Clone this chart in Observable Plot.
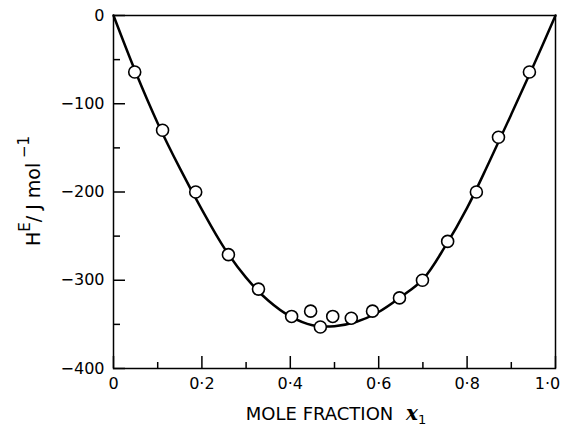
<!DOCTYPE html>
<html><head><meta charset="utf-8">
<script src="https://cdn.jsdelivr.net/npm/d3@7"></script>
<script src="https://cdn.jsdelivr.net/npm/@observablehq/plot@0.6"></script>
<style>body{margin:0;background:#fff}</style>
</head><body><div id="chart"></div>
<script>
// measured points
const pointX = [0.048, 0.111, 0.186, 0.260, 0.328, 0.403, 0.446, 0.468, 0.496, 0.538, 0.586, 0.647, 0.699, 0.756, 0.821, 0.871, 0.941];
const pointY = [-64, -130, -200, -271, -310, -341, -335, -353, -341, -343, -335, -320, -300, -256, -200, -138, -64];
// fitted curve
const curveX = [0, 0.05, 0.10, 0.15, 0.20, 0.25, 0.30, 0.35, 0.40, 0.45, 0.50, 0.55, 0.60, 0.65, 0.70, 0.75, 0.80, 0.85, 0.90, 0.95, 1.0];
const curveY = [0, -64, -122, -173, -220, -263, -297, -323, -341, -351, -352, -347, -336, -319, -299, -262, -218, -166, -112, -57, 0];
const xTicks = [0, 0.2, 0.4, 0.6, 0.8, 1.0];
const xTickLabels = ["0", "0·2", "0·4", "0·6", "0·8", "1·0"];
const xMinor = [0.1, 0.3, 0.5, 0.7, 0.9];
const yTicks = [0, -100, -200, -300, -400];
const yTickLabels = ["0", "−100", "−200", "−300", "−400"];
const yMinor = [-50, -150, -250, -350];

const points = pointX.map((x, i) => ({x, y: pointY[i]}));
const curve = curveX.map((x, i) => ({x, y: curveY[i]}));
const xLabelFmt = d => xTickLabels[xTicks.indexOf(d)];

const plot = Plot.plot({
  width: 561, height: 428,
  marginLeft: 113, marginTop: 15, marginRight: 6, marginBottom: 60,
  style: {fontFamily: "DejaVu Sans", fontSize: "16px", color: "#000", background: "#fff"},
  x: {domain: [0, 1]},
  y: {domain: [-400, 0]},
  marks: [
    Plot.frame({stroke: "#000", strokeWidth: 1.5}),
    Plot.axisX({ticks: xTicks.slice(0, -1), tickSize: 0, tickPadding: 9, tickFormat: xLabelFmt, label: null, fontSize: 16}),
    Plot.axisX({ticks: xTicks.slice(-1), tickSize: 0, tickPadding: 9, tickFormat: xLabelFmt, label: null, fontSize: 16, dx: -8}),
    Plot.axisX({ticks: xTicks, tickSize: -12, text: null, label: null, strokeWidth: 1.5}),
    Plot.axisX({ticks: xMinor, tickSize: -6, text: null, label: null, strokeWidth: 1.5}),
    Plot.axisY({ticks: yTicks, tickSize: 0, tickPadding: 9, tickFormat: (d, i) => yTickLabels[i], label: null, fontSize: 16}),
    Plot.axisY({ticks: yTicks, tickSize: -12, text: null, label: null, strokeWidth: 1.5}),
    Plot.axisY({ticks: yMinor, tickSize: -7, text: null, label: null, strokeWidth: 1.5}),
    Plot.line(curve, {x: "x", y: "y", curve: "catmull-rom", stroke: "#000", strokeWidth: 2.5}),
    Plot.dot(points, {x: "x", y: "y", r: 6, fill: "#fff", stroke: "#000", strokeWidth: 1.6})
  ]
});
document.getElementById("chart").appendChild(plot);

const svg = d3.select(plot);
// x label
const xl = svg.append("text")
  .attr("x", 336).attr("y", 420)
  .attr("text-anchor", "middle")
  .attr("font-family", "DejaVu Sans").attr("font-size", 18).attr("fill", "#000");
xl.append("tspan").text("MOLE FRACTION ");
xl.append("tspan").attr("font-style", "italic").attr("font-weight", "bold").attr("font-family", "DejaVu Serif").attr("font-size", 20).text(" x");
xl.append("tspan").attr("font-size", 13).attr("dy", 4).text("1");
// y label
const yl = svg.append("text")
  .attr("transform", "translate(40,191) rotate(-90)")
  .attr("text-anchor", "middle")
  .attr("font-family", "DejaVu Sans").attr("font-size", 19).attr("fill", "#000");
yl.append("tspan").text("H");
yl.append("tspan").attr("font-size", 15).attr("dy", -10).text("E");
yl.append("tspan").attr("dy", 10).text("/ J mol");
yl.append("tspan").attr("font-size", 15).attr("dy", -11).text(" −1");
</script>
</body></html>
